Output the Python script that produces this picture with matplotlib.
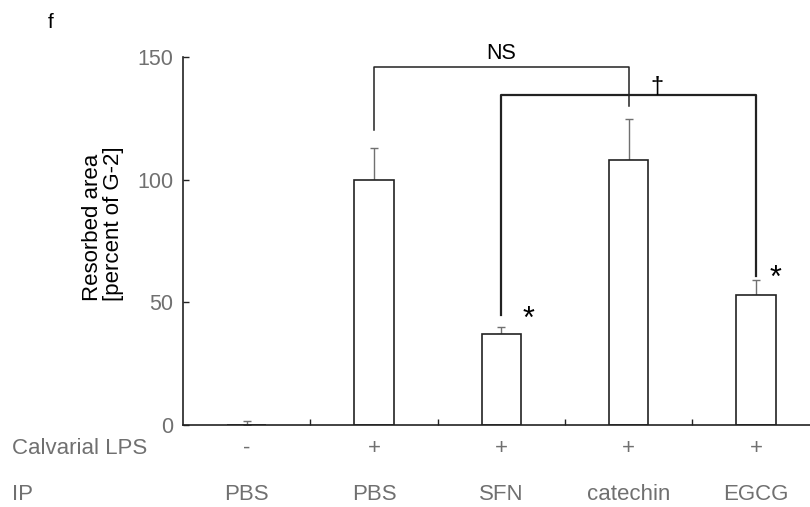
import matplotlib.pyplot as plt
import matplotlib.transforms as mtransforms

plt.rcParams['font.family'] = ['Liberation Sans', 'DejaVu Sans']

# data
lps = ['-', '+', '+', '+', '+']
ip = ['PBS', 'PBS', 'SFN', 'catechin', 'EGCG']
area = [0, 100, 37.3, 108.2, 53.1]
sem = [1.5, 13, 2.5, 16.5, 6]

grey = '#707070'
dark = '#222222'

fig = plt.figure(figsize=(8.1, 5.07), dpi=100)
ax = fig.add_axes([0.226, 0.162, 0.786, 0.7246])

x = list(range(len(area)))
ax.bar(x, area, width=0.31, color='white', edgecolor=dark, linewidth=1.2, zorder=2)
ax.errorbar(x, area, yerr=[[0] * len(sem), sem], fmt='none', ecolor=grey,
            elinewidth=1.0, capsize=3, capthick=1.0, zorder=1)

ax.set_xlim(-0.5, 4.5)
ax.set_ylim(0, 150)
ax.set_yticks([0, 50, 100, 150])
ax.tick_params(axis='y', direction='in', length=4, width=1, colors=dark,
               labelcolor=grey, labelsize=15.5, pad=7)
ax.set_xticks([0.5, 1.5, 2.5, 3.5], minor=True)
ax.set_xticks([])
ax.tick_params(axis='x', which='minor', direction='in', length=4, width=1, colors=dark)
for s in ['top', 'right']:
    ax.spines[s].set_visible(False)
for s in ['left', 'bottom']:
    ax.spines[s].set_color(dark)
    ax.spines[s].set_linewidth(1.2)

# y label, lines left-aligned as in the original
fig.text(103 / 810, 1 - 224 / 507, 'Resorbed area\n[percent of G-2]', rotation=90,
         ha='center', va='center', multialignment='left', fontsize=16,
         color='black', linespacing=1.05)

# significance brackets
ax.plot([1, 1, 3, 3], [120.5, 146, 146, 130], color=dark, lw=1.1, clip_on=False)
ax.text(2, 147.5, 'NS', ha='center', va='bottom', fontsize=15.5, color='black')
ax.plot([2, 2, 4, 4], [45, 134.6, 134.6, 60.6], color=dark, lw=1.6, clip_on=False)
ax.text(3.22, 133.5, '†', ha='center', va='bottom', fontsize=17, color='black')
ax.text(2.21, 43, '*', ha='center', va='center', fontsize=22, color='black')
ax.text(4.15, 59.5, '*', ha='center', va='center', fontsize=22, color='black')

# condition rows under the axis
trans = mtransforms.blended_transform_factory(ax.transData, fig.transFigure)
for i in x:
    ax.text(i, 1 - 448 / 507, lps[i], transform=trans, ha='center', va='center',
            fontsize=16, color=grey)
    ax.text(i, 1 - 494 / 507, ip[i], transform=trans, ha='center', va='center',
            fontsize=16, color=grey)
fig.text(12 / 810, 1 - 448 / 507, 'Calvarial LPS', ha='left', va='center',
         fontsize=16, color=grey)
fig.text(12 / 810, 1 - 494 / 507, 'IP', ha='left', va='center',
         fontsize=16, color=grey)
fig.text(51 / 810, 1 - 22 / 507, 'f', ha='center', va='center', fontsize=15,
         color='black')

fig.savefig('out.png', dpi=100)
